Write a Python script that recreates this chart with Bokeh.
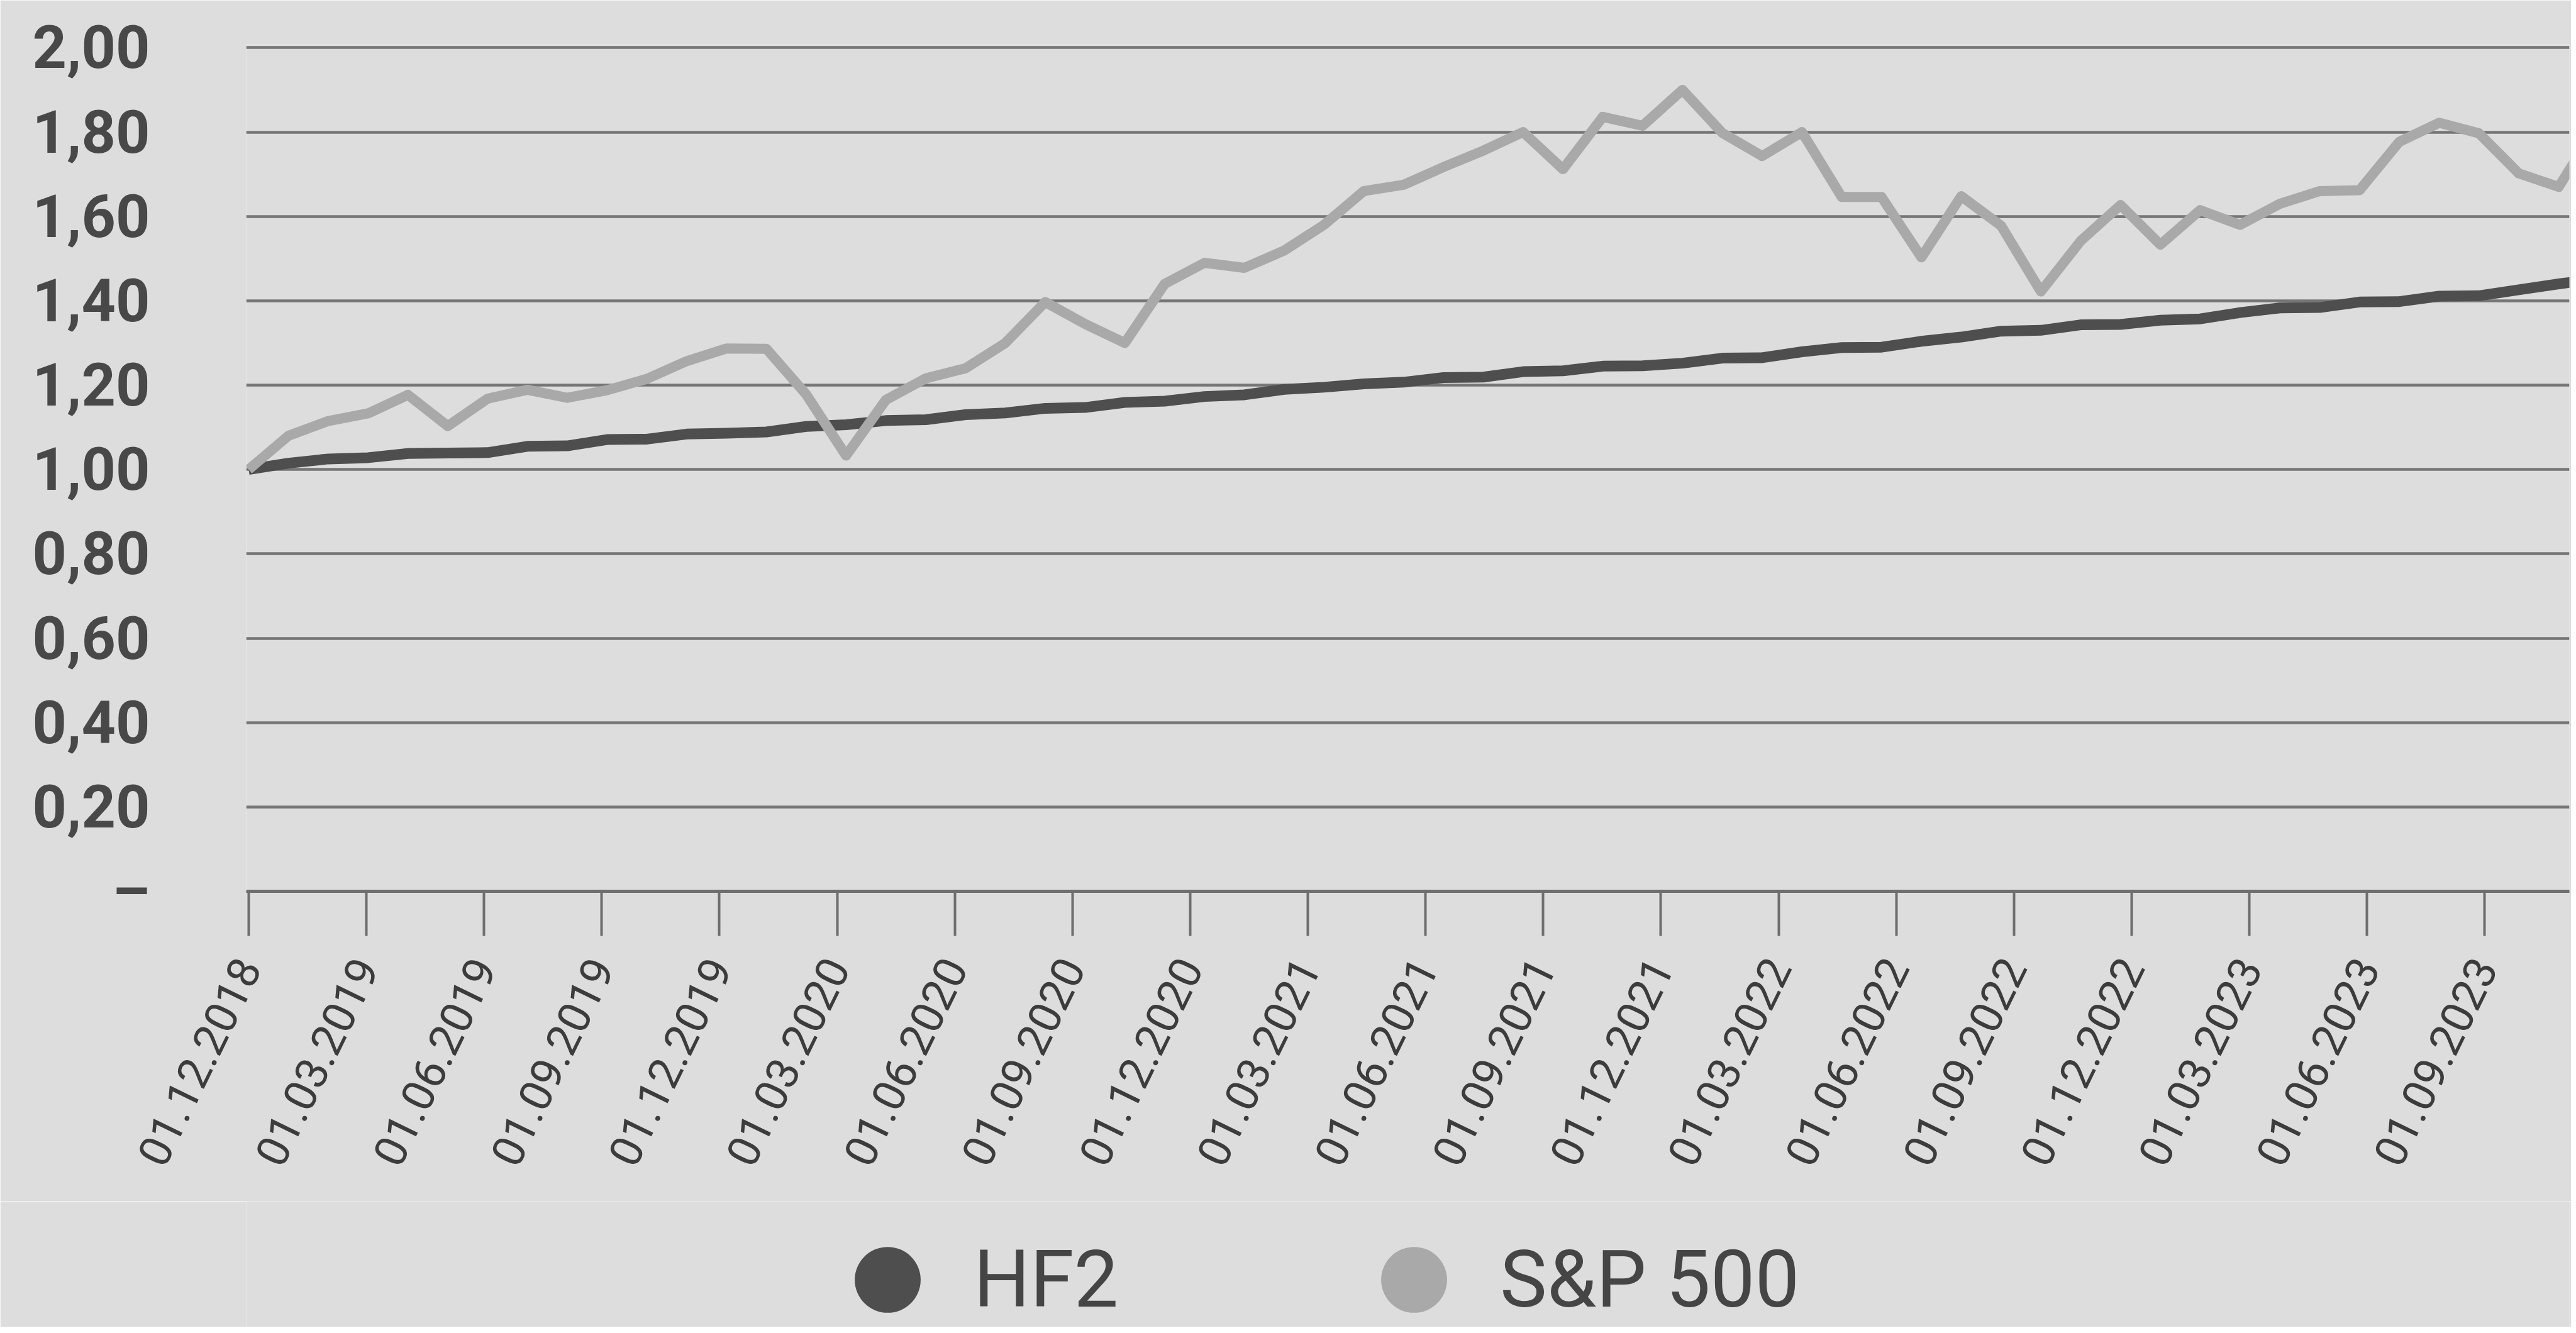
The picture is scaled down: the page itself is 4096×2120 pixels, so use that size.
import math
from bokeh.plotting import figure
from bokeh.layouts import column
from bokeh.models import (Range1d, FixedTicker, CustomJSTickFormatter, Legend,
                          LegendItem, ColumnDataSource)
from bokeh.embed import file_html
from bokeh.resources import INLINE

# ---------------- data ----------------
months = ["12.2018", "01.2019", "02.2019", "03.2019", "04.2019", "05.2019", "06.2019",
          "07.2019", "08.2019", "09.2019", "10.2019", "11.2019", "12.2019",
          "01.2020", "02.2020", "03.2020", "04.2020", "05.2020", "06.2020",
          "07.2020", "08.2020", "09.2020", "10.2020", "11.2020", "12.2020",
          "01.2021", "02.2021", "03.2021", "04.2021", "05.2021", "06.2021",
          "07.2021", "08.2021", "09.2021", "10.2021", "11.2021", "12.2021",
          "01.2022", "02.2022", "03.2022", "04.2022", "05.2022", "06.2022",
          "07.2022", "08.2022", "09.2022", "10.2022", "11.2022", "12.2022",
          "01.2023", "02.2023", "03.2023", "04.2023", "05.2023", "06.2023",
          "07.2023", "08.2023", "09.2023", "10.2023", "11.2023"]

hf2 = [1.000, 1.015, 1.025, 1.028, 1.038, 1.039, 1.040, 1.055, 1.056, 1.071,
       1.072, 1.084, 1.086, 1.089, 1.102, 1.106, 1.116, 1.118, 1.130, 1.134,
       1.145, 1.147, 1.159, 1.162, 1.173, 1.177, 1.190, 1.195, 1.203, 1.207,
       1.218, 1.219, 1.232, 1.234, 1.245, 1.246, 1.252, 1.264, 1.265, 1.279,
       1.289, 1.290, 1.304, 1.314, 1.328, 1.330, 1.343, 1.344, 1.354, 1.357,
       1.372, 1.383, 1.384, 1.397, 1.398, 1.411, 1.412, 1.426, 1.440, 1.452]

sp500 = [1.000, 1.080, 1.115, 1.133, 1.177, 1.103, 1.168, 1.189, 1.170, 1.188,
         1.215, 1.257, 1.287, 1.286, 1.178, 1.033, 1.165, 1.216, 1.240, 1.300,
         1.397, 1.345, 1.300, 1.440, 1.490, 1.478, 1.519, 1.580, 1.660, 1.675,
         1.717, 1.756, 1.800, 1.712, 1.836, 1.815, 1.900, 1.798, 1.743, 1.800,
         1.646, 1.646, 1.503, 1.648, 1.578, 1.422, 1.542, 1.627, 1.533, 1.615,
         1.580, 1.630, 1.660, 1.662, 1.777, 1.822, 1.797, 1.702, 1.670, 1.820]

tick_labels = ["01.12.2018", "01.03.2019", "01.06.2019", "01.09.2019", "01.12.2019",
               "01.03.2020", "01.06.2020", "01.09.2020", "01.12.2020", "01.03.2021",
               "01.06.2021", "01.09.2021", "01.12.2021", "01.03.2022", "01.06.2022",
               "01.09.2022", "01.12.2022", "01.03.2023", "01.06.2023", "01.09.2023"]

y_ticks = [0, 0.2, 0.4, 0.6, 0.8, 1.0, 1.2, 1.4, 1.6, 1.8, 2.0]

series_names = ["HF2", "S&P 500"]
series_colors = ["#4e4e4e", "#a9a9a9"]

# label spacing as drawn in the original (in months of the data axis)
TICK_STEP = 2.955

# ---------------- main chart ----------------
x = list(range(len(hf2)))
tick_pos = [k * TICK_STEP for k in range(len(tick_labels))]

BG = "#dddddd"
W = 4088
H_MAIN = 1910
H_LEG = 200
FRAME_LEFT = 391

p = figure(width=W, height=H_MAIN, output_backend="svg", toolbar_location=None,
           x_range=Range1d(-0.061, 58.27), y_range=Range1d(0, 2.008),
           min_border_left=FRAME_LEFT, min_border_right=3, min_border_top=70,
           min_border_bottom=H_MAIN - 1417)
p.background_fill_color = BG
p.border_fill_color = BG
p.outline_line_color = None

# grid
p.xgrid.grid_line_color = None
p.ygrid.grid_line_color = "#767676"
p.ygrid.grid_line_width = 4.5

# y axis
p.yaxis.ticker = FixedTicker(ticks=y_ticks)
p.yaxis.formatter = CustomJSTickFormatter(
    code="return tick < 0.001 ? '\u2013' : tick.toFixed(2).replace('.', ',');")
p.yaxis.axis_line_color = None
p.yaxis.major_tick_line_color = None
p.yaxis.minor_tick_line_color = None
p.yaxis.major_tick_out = 0
p.yaxis.major_tick_in = 0
p.yaxis.major_label_standoff = 153
p.yaxis.major_label_text_font = "Roboto"
p.yaxis.major_label_text_font_style = "bold"
p.yaxis.major_label_text_font_size = "95px"
p.yaxis.major_label_text_color = "#484848"

# x axis
p.xaxis.ticker = FixedTicker(ticks=tick_pos)
p.xaxis.formatter = CustomJSTickFormatter(
    args=dict(labels=tick_labels, step=TICK_STEP),
    code="const i = Math.round(tick / step); return (i >= 0 && i < labels.length) ? labels[i] : '';")
p.xaxis.axis_line_color = "#6e6e6e"
p.xaxis.axis_line_width = 5
p.xaxis.major_tick_line_color = "#6e6e6e"
p.xaxis.major_tick_line_width = 4
p.xaxis.major_tick_out = 71
p.xaxis.major_tick_in = 0
p.xaxis.minor_tick_line_color = None
p.xaxis.major_label_orientation = math.radians(64)
p.xaxis.major_label_standoff = 40
p.xaxis.major_label_text_font = "Roboto"
p.xaxis.major_label_text_font_size = "71px"
p.xaxis.major_label_text_color = "#3c3c3c"

# lines
p.line(x, hf2, line_color=series_colors[0], line_width=17, line_join="round")
p.line(x, sp500, line_color=series_colors[1], line_width=16, line_join="round")

# ---------------- legend strip ----------------
q = figure(width=W, height=H_LEG, output_backend="svg", toolbar_location=None,
           x_axis_type=None, y_axis_type=None,
           x_range=Range1d(0, 1), y_range=Range1d(0, 1),
           min_border_left=FRAME_LEFT, min_border_right=3, min_border_top=0,
           min_border_bottom=0)
q.background_fill_color = BG
q.border_fill_color = BG
q.outline_line_color = None
q.xgrid.grid_line_color = None
q.ygrid.grid_line_color = None

# zero-size markers: nothing is drawn in the strip itself, they only
# lend their colour to the legend dots
m_hf2 = q.scatter(x="x", y="y", size=0,
                  source=ColumnDataSource(data=dict(x=[0.5], y=[0.5])),
                  marker="circle", fill_color=series_colors[0], line_color=None)
m_sp = q.scatter(x="x", y="y", size=0,
                 source=ColumnDataSource(data=dict(x=[0.5], y=[0.5])),
                 marker="circle", fill_color=series_colors[1], line_color=None)

# legend dot diameter = 0.4 * glyph box  ->  262 px box gives a ~105 px dot
legend = Legend(items=[LegendItem(label=series_names[0], renderers=[m_hf2]),
                       LegendItem(label=series_names[1], renderers=[m_sp])],
                orientation="horizontal", location=(1280 - FRAME_LEFT, -56),
                glyph_width=262, glyph_height=262, label_height=150,
                label_standoff=6, label_width=569, spacing=0, padding=0, margin=0,
                border_line_color=None, background_fill_alpha=0,
                label_text_font="Roboto", label_text_font_size="126px",
                label_text_color="#454545")
q.add_layout(legend, "center")

layout = column(p, q, spacing=0)
open("out.html", "w").write(file_html(layout, INLINE))
